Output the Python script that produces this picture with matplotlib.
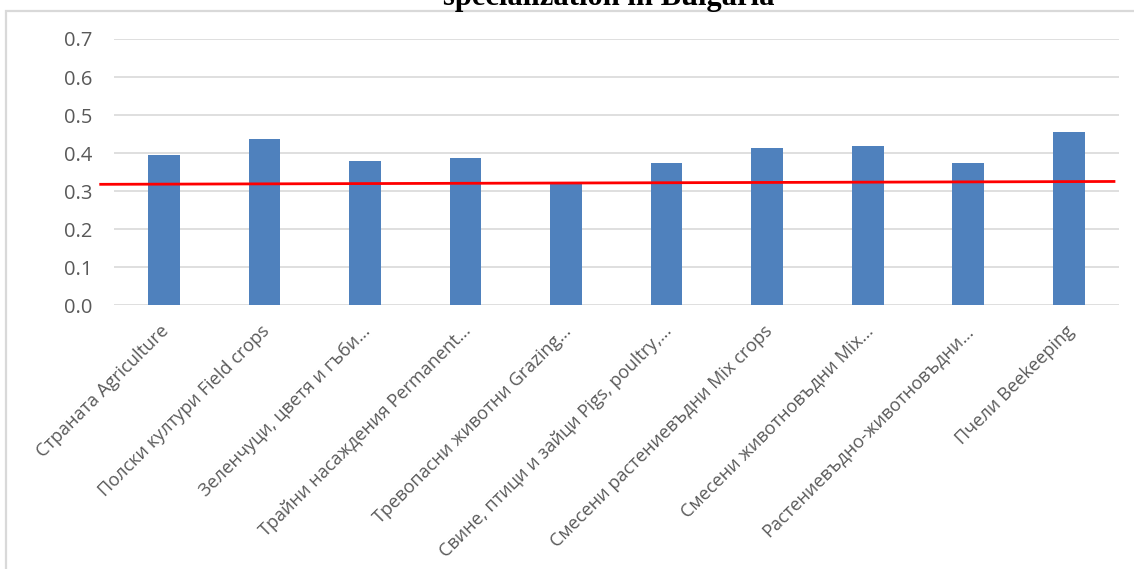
import matplotlib.pyplot as plt
from matplotlib.patches import Rectangle
from matplotlib.transforms import ScaledTranslation

# Index values by type of farming specialization
categories = [
    'Страната Agriculture',
    'Полски култури Field crops',
    'Зеленчуци, цветя и гъби…',
    'Трайни насаждения Permanent…',
    'Тревопасни животни Grazing…',
    'Свине, птици и зайци Pigs, poultry,…',
    'Смесени растениевъдни Mix crops',
    'Смесени животновъдни Mix…',
    'Растениевъдно-животновъдни…',
    'Пчели Beekeeping',
]
values = [0.395, 0.437, 0.378, 0.386, 0.321, 0.374, 0.413, 0.419, 0.375, 0.455]

# reference line drawn across the chart
ref_x = [-0.63, 9.45]
ref_y = [0.318, 0.3255]

yticks = [0.0, 0.1, 0.2, 0.3, 0.4, 0.5, 0.6, 0.7]

plt.rcParams['font.family'] = ['Open Sans', 'DejaVu Sans']

fig = plt.figure(figsize=(11.34, 5.69), dpi=100)
W, H = 1134, 569

# chart frame, partly outside the canvas
fig.patches.append(Rectangle((6 / W, -0.1), 1.2, 1 - 11 / H + 0.1,
                             transform=fig.transFigure, fill=False,
                             edgecolor='#d9d9d9', linewidth=1.6))

ax = fig.add_axes([113.75 / W, 1 - 305.3 / H, (1119 - 113.75) / W, (305.3 - 39) / H])
x = list(range(len(categories)))
ax.bar(x, values, width=0.315, color='#4f81bd', zorder=2)
ax.plot(ref_x, ref_y, color='#ff0000', linewidth=2, zorder=3, clip_on=False)

ax.set_xlim(-0.5, len(categories) - 0.5)
ax.set_ylim(0, 0.7)
ax.set_yticks(yticks)
ax.set_yticklabels([f'{v:.1f}' for v in yticks])
ax.yaxis.grid(True, color='#d9d9d9', linewidth=1.2, zorder=0)
ax.set_axisbelow(True)
for s in ax.spines.values():
    s.set_visible(False)
ax.tick_params(axis='both', length=0, colors='#595959')
ax.tick_params(axis='y', pad=15.5, labelsize=14.5)

ax.set_xticks(x)
ax.set_xticklabels(categories, rotation=45, ha='right', rotation_mode='anchor',
                   fontsize=13.1, color='#595959')
ax.tick_params(axis='x', pad=12)
# nudge the slanted labels a little to the left
shift = ScaledTranslation(-4 / 100, 0, fig.dpi_scale_trans)
for lbl in ax.get_xticklabels():
    lbl.set_transform(lbl.get_transform() + shift)

fig.text(0.537, 1 - 5 / H, 'specialization in Bulgaria', ha='center', va='baseline',
         family='Liberation Serif', fontweight='bold', fontsize=22, color='black')

fig.savefig('out.png', dpi=100, facecolor='white')
